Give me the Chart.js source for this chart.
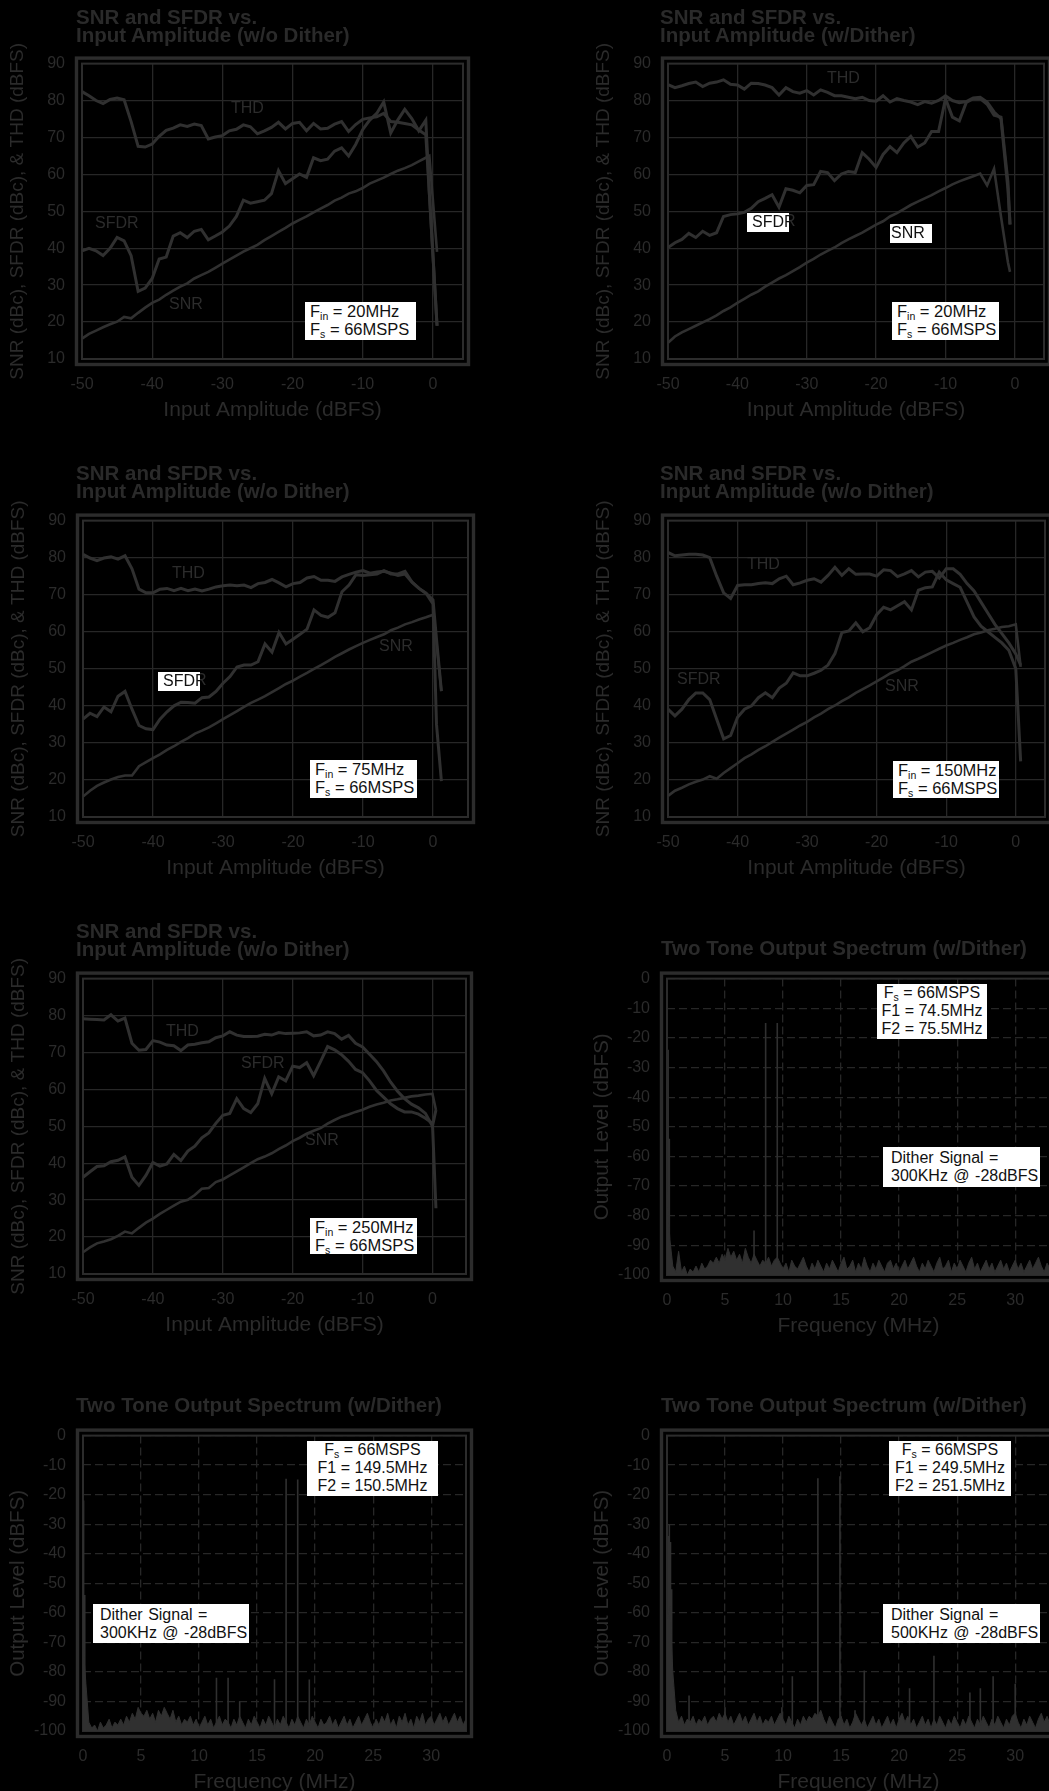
<!DOCTYPE html>
<html lang="en">
<head>
<meta charset="utf-8">
<title>SNR / SFDR and two tone spectrum</title>
<script src="https://cdn.jsdelivr.net/npm/chart.js@4.4.0/dist/chart.umd.min.js"></script>
<style>
html, body { margin: 0; padding: 0; background: #000; overflow: hidden; width: 1049px; height: 1791px; }
body { position: relative; font-family: 'Liberation Sans', Arial, Helvetica, sans-serif; }
canvas { position: absolute; z-index: 0; }
.ttl { position: absolute; z-index: 2; color: #2a2a2a; font-weight: bold; font-size: 20.5px; line-height: 18px; white-space: nowrap; }
.lbl { position: absolute; z-index: 2; color: #2c2c2c; font-size: 16px; line-height: 18px; white-space: nowrap; }
.box { position: absolute; z-index: 3; background: #fff; color: #111; font-size: 16.5px; line-height: 18px; white-space: nowrap; overflow: hidden; box-sizing: border-box; }
.box2 { position: absolute; z-index: 3; background: #fff; color: #111; font-size: 16px; line-height: 17.8px; white-space: nowrap; overflow: hidden; box-sizing: border-box; }
.mini { position: absolute; z-index: 3; background: #fff; color: #111; font-size: 16px; line-height: 17px; white-space: nowrap; overflow: hidden; box-sizing: border-box; height: 19px; width: 42px; }
.sb { font-size: 10.5px; position: relative; top: 3px; line-height: 0; }
</style>
</head>
<body>

<!-- titulos -->
<div class="ttl" style="left:76px;top:8px">SNR and SFDR vs.<br>Input Amplitude (w/o Dither)</div>
<div class="ttl" style="left:660px;top:8px">SNR and SFDR vs.<br>Input Amplitude (w/Dither)</div>
<div class="ttl" style="left:76px;top:464px">SNR and SFDR vs.<br>Input Amplitude (w/o Dither)</div>
<div class="ttl" style="left:660px;top:464px">SNR and SFDR vs.<br>Input Amplitude (w/o Dither)</div>
<div class="ttl" style="left:76px;top:922px">SNR and SFDR vs.<br>Input Amplitude (w/o Dither)</div>
<div class="ttl" style="left:661px;top:939px">Two Tone Output Spectrum (w/Dither)</div>
<div class="ttl" style="left:76px;top:1396px">Two Tone Output Spectrum (w/Dither)</div>
<div class="ttl" style="left:661px;top:1396px">Two Tone Output Spectrum (w/Dither)</div>

<!-- etiquetas de curvas -->
<div class="lbl" style="left:231px;top:99px">THD</div>
<div class="lbl" style="left:95px;top:214px">SFDR</div>
<div class="lbl" style="left:169px;top:295px">SNR</div>
<div class="lbl" style="left:827px;top:69px">THD</div>
<div class="lbl" style="left:752px;top:212px">SFDR</div>
<div class="mini" style="left:747px;top:213px;padding-left:5px">SFDR</div>
<div class="mini" style="left:890px;top:224px;padding-left:1px">SNR</div>
<div class="lbl" style="left:172px;top:564px">THD</div>
<div class="lbl" style="left:379px;top:637px">SNR</div>
<div class="lbl" style="left:163px;top:671px">SFDR</div>
<div class="mini" style="left:158px;top:672px;padding-left:5px">SFDR</div>
<div class="lbl" style="left:747px;top:555px">THD</div>
<div class="lbl" style="left:677px;top:670px">SFDR</div>
<div class="lbl" style="left:885px;top:677px">SNR</div>
<div class="lbl" style="left:166px;top:1022px">THD</div>
<div class="lbl" style="left:241px;top:1054px">SFDR</div>
<div class="lbl" style="left:305px;top:1131px">SNR</div>

<!-- cajas de condiciones -->
<div class="box" style="left:305px;top:302px;width:111px;height:38px;padding-left:5px">F<span class="sb">in</span> = 20MHz<br>F<span class="sb">s</span> = 66MSPS</div>
<div class="box" style="left:892px;top:302px;width:107px;height:38px;padding-left:5px">F<span class="sb">in</span> = 20MHz<br>F<span class="sb">s</span> = 66MSPS</div>
<div class="box" style="left:310px;top:760px;width:107px;height:38px;padding-left:5px">F<span class="sb">in</span> = 75MHz<br>F<span class="sb">s</span> = 66MSPS</div>
<div class="box" style="left:893px;top:761px;width:106px;height:37px;padding-left:5px">F<span class="sb">in</span> = 150MHz<br>F<span class="sb">s</span> = 66MSPS</div>
<div class="box" style="left:310px;top:1218px;width:107px;height:36px;padding-left:5px">F<span class="sb">in</span> = 250MHz<br>F<span class="sb">s</span> = 66MSPS</div>

<div class="box2" style="left:877px;top:984px;width:110px;height:55px;text-align:center">F<span class="sb">s</span> = 66MSPS<br>F1 = 74.5MHz<br>F2 = 75.5MHz</div>
<div class="box2" style="left:883px;top:1147px;width:157px;height:40px;padding-left:8px;padding-top:2px;word-spacing:1px">Dither Signal =<br>300KHz @ -28dBFS</div>
<div class="box2" style="left:307px;top:1441px;width:131px;height:55px;text-align:center">F<span class="sb">s</span> = 66MSPS<br>F1 = 149.5MHz<br>F2 = 150.5MHz</div>
<div class="box2" style="left:93px;top:1604px;width:156px;height:39px;padding-left:7px;padding-top:2px;word-spacing:1px">Dither Signal =<br>300KHz @ -28dBFS</div>
<div class="box2" style="left:889px;top:1441px;width:122px;height:55px;text-align:center">F<span class="sb">s</span> = 66MSPS<br>F1 = 249.5MHz<br>F2 = 251.5MHz</div>
<div class="box2" style="left:883px;top:1604px;width:157px;height:39px;padding-left:8px;padding-top:2px;word-spacing:1px">Dither Signal =<br>500KHz @ -28dBFS</div>

<script>
// colores del original (todo gris oscuro sobre negro)
const TXT = '#2b2b2b';
const GRID = '#272727';
const FRAME = '#2c2c2c';
const LINE = '#303030';
const FONT = "'Liberation Sans', Arial, Helvetica, sans-serif";

// ---------- ejes ----------
const ampTicks = [-50, -40, -30, -20, -10, 0];
const dbTicks = [10, 20, 30, 40, 50, 60, 70, 80, 90];
const freqTicks = [0, 5, 10, 15, 20, 25, 30];
const levelTicks = [-100, -90, -80, -70, -60, -50, -40, -30, -20, -10, 0];

// amplitud de entrada (dBFS), pasos de 1 dB
const levelsDb = [-50, -49, -48, -47, -46, -45, -44, -43, -42, -41,
  -40, -39, -38, -37, -36, -35, -34, -33, -32, -31,
  -30, -29, -28, -27, -26, -25, -24, -23, -22, -21,
  -20, -19, -18, -17, -16, -15, -14, -13, -12, -11,
  -10, -9, -8, -7, -6, -5, -4, -3, -2, -1];

// ---------- Fin = 20MHz, sin dither ----------
const amp1 = levelsDb.concat([-0.5, 0.6]);
const thd1 = [82.4, 81.3, 80, 79.2, 80.3, 80.7, 80.2, 74.3, 67.6, 67.4,
  68.2, 70.3, 71.9, 72.5, 73.4, 73, 73.6, 73.2, 69.6, 70.1,
  70.5, 71.8, 72.2, 73.4, 72.9, 71, 71.8, 72.7, 74.1, 72.3,
  73.8, 74.1, 71.8, 73.8, 72.3, 72.5, 73.6, 74.3, 71.6, 73.5,
  74.9, 75.3, 75.6, 76.5, 74.3, 74.1, 73.8, 73.4, 72, 70.7,
  55, 19];
const sfdr1 = [39.3, 40, 39.3, 38, 40, 42.9, 42, 38, 28.3, 29.2,
  31.8, 37.1, 37.6, 43.3, 44.2, 42.9, 44.6, 45.1, 42.3, 43.3,
  44.4, 46, 48.6, 53, 52.2, 52.6, 53, 54.8, 61, 57.5,
  58.8, 60.1, 59.2, 64.5, 63.7, 64.1, 66.3, 67.2, 65, 68.1,
  72.1, 74.7, 76.5, 79.6, 71.2, 74.7, 77.6, 75.1, 71.8, 74.7,
  55, 19];
const snr1 = [15.5, 16.8, 17.7, 18.6, 19.4, 20.1, 21.4, 21, 22.5, 23.9,
  25.2, 26.1, 27.4, 28.5, 29.6, 30.5, 31.8, 32.7, 33.6, 34.7,
  35.8, 36.9, 38, 39.1, 40, 40.9, 42.2, 43.3, 44.4, 45.5,
  46.7, 47.7, 48.6, 49.7, 50.7, 51.7, 52.9, 53.7, 54.8, 55.4,
  56.3, 57.5, 58.3, 59.1, 60.1, 61, 61.7, 62.5, 63.5, 64.5,
  65, 39];

// ---------- Fin = 20MHz, con dither ----------
const amp2 = levelsDb.concat([-0.7]);
const thd2 = [84.3, 83.5, 84, 84.6, 85, 83.8, 84.7, 85, 85.6, 84.4,
  84.2, 83.1, 84.7, 84.6, 84.2, 83.5, 81.5, 83.5, 82.4, 82,
  82.7, 81.5, 82.9, 82.2, 81.3, 81.3, 80.9, 80.5, 80.9, 80,
  79.8, 81.3, 79.6, 80.5, 80, 79.6, 78.9, 79.7, 79.3, 80,
  81.3, 80, 79.4, 79.7, 80.7, 80.9, 79.6, 76.9, 75.1, 56,
  46.4];
const sfdr2 = [40.2, 41.5, 42.4, 44, 42.9, 44.6, 43.5, 44.2, 48.6, 49.1,
  49.3, 49.7, 50.8, 52.6, 53.5, 54.5, 51.1, 56.1, 55.7, 55,
  57, 57.2, 60.8, 60.5, 58.3, 60.1, 60.8, 60.5, 65.9, 64.1,
  61.9, 65.4, 67.5, 65.9, 68.5, 70.3, 67.4, 68.5, 71.6, 71.6,
  80.5, 75.5, 74.5, 79.5, 80.5, 80.5, 79, 76, 75.5, 58,
  46.5];
const snr2 = [14.4, 16.1, 17.2, 18.1, 19, 19.9, 20.8, 21.8, 23, 24,
  25.2, 26.3, 27.4, 28.3, 29.6, 30.7, 31.8, 32.7, 33.8, 34.9,
  36.1, 37.1, 38.3, 39.3, 40.2, 41.4, 42.4, 43.3, 44.2, 45.3,
  46.4, 47.3, 48.6, 49.5, 50.6, 51.7, 52.6, 53.5, 54.4, 55.4,
  56.3, 57.3, 58.1, 58.8, 59.5, 60.2, 57, 61.5, 48.6, 36.2,
  33.6];

// ---------- Fin = 75MHz ----------
const amp3 = levelsDb.concat([0, 0.5, 1.2]);
const thd3 = [80.9, 79.9, 79.2, 79.9, 80.2, 79.6, 80.5, 77, 71.5, 70.5,
  70.5, 71.5, 71.7, 71.1, 71.7, 71.1, 71.5, 71, 71.5, 72.1,
  72.4, 72.6, 72.4, 72.6, 71.9, 73, 73.3, 74.1, 73.2, 72.1,
  73, 73.3, 74.5, 74.9, 73.9, 73.9, 73.6, 74.8, 75.5, 76.1,
  76.5, 75.8, 76.1, 76.3, 75.8, 75.2, 75.6, 73.4, 71.7, 70.4,
  68.6, 58, 44];
const sfdr3 = [36.4, 38, 37.1, 39.7, 38.4, 42.6, 43.9, 39.1, 34.7, 33.8,
  33.6, 36.4, 38.4, 40, 41, 40.9, 40.7, 42.2, 42.4, 43.9,
  46.1, 47.9, 50.5, 51, 51, 51.9, 56.7, 54.5, 59.8, 56.7,
  58, 59.3, 60.7, 65.9, 64.4, 63.9, 65.1, 70.8, 72.6, 75.4,
  75.2, 75.4, 75.6, 76.5, 75.6, 75.6, 76.3, 73.4, 71.7, 70.4,
  67.5, 35, 19.7];
const snr3 = [15.5, 17.1, 18.4, 19.3, 20.1, 20.8, 21.2, 21.2, 23.7, 24.8,
  25.9, 26.9, 28.1, 29.1, 30.3, 31.3, 32.5, 33.3, 34.2, 35.3,
  36.4, 37.5, 38.6, 39.7, 40.8, 41.7, 42.6, 43.7, 44.8, 45.9,
  46.8, 47.9, 48.9, 50, 51, 52.1, 53.2, 54.2, 55.2, 56.1,
  57, 57.8, 58.6, 59.3, 60.4, 61.1, 62, 62.6, 63.3, 63.9,
  64.6, 57, 44];

// ---------- Fin = 150MHz ----------
const amp4 = levelsDb.concat([0, 0.7]);
const thd4 = [81.4, 80.5, 80.7, 80.9, 80.9, 80.7, 80, 75, 70.5, 69,
  72.5, 72.7, 72.7, 73, 73.2, 73, 74.3, 75, 72.7, 73.2,
  73.9, 74.3, 73.4, 75.2, 77.4, 75.2, 77, 75.5, 75.6, 75.6,
  75, 76.7, 76.5, 74.9, 75.6, 76.5, 74.8, 76.1, 76.3, 74.5,
  77, 77, 75.5, 73, 71, 68, 65, 62, 59.5, 57,
  54, 51];
const sfdr4 = [39.1, 37.3, 39.1, 41.7, 43.5, 43.5, 41.7, 36.4, 31.1, 32,
  36.9, 39.1, 40, 42.2, 43.5, 42.2, 44.8, 46.1, 48.9, 48.1,
  48.1, 48.8, 49.6, 51, 54.1, 59.8, 60.2, 62.4, 60, 61.1,
  64.6, 66.6, 65.9, 67, 68.1, 65.9, 71.2, 71.9, 72.1, 76.1,
  74, 73, 72, 68, 64, 61.5, 60, 58.5, 57, 55,
  50, 25];
const snr4 = [15.7, 17.1, 17.9, 18.8, 19.5, 20.1, 21, 20.3, 21.9, 23.2,
  24.5, 25.9, 26.9, 28.1, 29.1, 30.3, 31.4, 32.5, 33.6, 34.7,
  35.7, 36.9, 37.9, 39.1, 40.1, 41.3, 42.3, 43.5, 44.5, 45.5,
  46.6, 47.7, 48.8, 49.6, 50.7, 51.9, 52.7, 53.6, 54.5, 55.4,
  56.3, 57, 57.8, 58.5, 59.3, 59.8, 60.4, 60.8, 61.3, 61.5,
  62, 50.5];

// ---------- Fin = 250MHz ----------
const amp5 = levelsDb.concat([0, 0.5]);
const thd5 = [79.1, 79, 78.9, 78.8, 80.2, 78.5, 79.3, 72.5, 70.6, 70.8,
  73.2, 72.8, 72, 71.8, 70.5, 72, 72.2, 72.6, 72.9, 74,
  74.5, 75.6, 74.7, 74.3, 74.3, 74.4, 74.9, 74.7, 75.4, 75.1,
  75.2, 75.3, 75.6, 74.5, 74.7, 75.6, 75.1, 73.6, 74.6, 72.5,
  71.5, 69.5, 67.5, 65, 62, 59.5, 57.5, 56, 55, 53.5,
  50, 54.4];
const sfdr5 = [36.2, 37.7, 39.1, 39.3, 40.4, 40.8, 41.7, 36.2, 34, 36.7,
  40.2, 39.2, 39.8, 42.4, 40.7, 43.3, 44.6, 46.9, 48.2, 50.8,
  53, 53.5, 57.5, 54.8, 53.7, 56.1, 63, 58.8, 63.4, 62.3,
  66.3, 65.9, 67.2, 63.7, 67.6, 71.6, 70.7, 69.4, 67.6, 65.4,
  64.5, 62.3, 59.7, 57.9, 56.1, 54.8, 53.9, 53.9, 53.3, 52.2,
  50.8, 27.8];
const snr5 = [15.9, 17.2, 18.3, 18.8, 19.4, 20.3, 21.5, 21, 22.5, 23.9,
  25, 26.3, 27.4, 28.5, 29.6, 30.1, 31.4, 33.1, 33.3, 34.9,
  35.6, 36.7, 37.8, 38.9, 40, 41.1, 41.8, 42.7, 43.8, 44.8,
  46, 46.9, 48, 48.8, 49.5, 50.7, 51.7, 52.6, 53.2, 53.9,
  54.5, 55.3, 55.9, 56.4, 57, 57.3, 57.7, 58.1, 58.3, 58.6,
  58.8, 54.4];

// ---------- espectros: piso de ruido cada 0.25 MHz (0..33) ----------
const binStep = 0.25;
const noise6 = [
  -72, -88, -97, -99, -92, -99, -97, -100, -98, -99, -97, -99,
  -96, -98, -97, -95, -96, -94, -96, -93, -95, -91, -94, -92,
  -95, -93, -96, -91, -94, -96, -93, -95, -97, -95, -96, -94,
  -97, -95, -94, -96, -98, -96, -99, -95, -97, -98, -96, -94,
  -97, -99, -96, -98, -95, -97, -99, -96, -98, -95, -97, -99,
  -96, -94, -98, -97, -95, -99, -96, -98, -94, -97, -99, -96,
  -98, -95, -97, -99, -96, -95, -98, -96, -99, -97, -95, -98,
  -96, -94, -97, -99, -96, -98, -95, -97, -99, -96, -94, -98,
  -97, -95, -99, -96, -98, -95, -97, -99, -96, -94, -98, -96,
  -99, -97, -95, -98, -96, -99, -97, -95, -98, -96, -99, -97,
  -95, -98, -96, -99, -97, -95, -98, -96, -94, -97, -99, -96,
  -98];
const spikeF6 = [0.1, 0.2, 7.5, 8.5, 9.5];
const spikeL6 = [-24, -54, -85, -15, -15];

const noise7 = [
  -70, -84, -97, -99, -98, -100, -97, -99, -98, -96, -99, -97,
  -98, -96, -98, -95, -97, -94, -96, -92, -94, -95, -93, -96,
  -94, -97, -93, -95, -92, -94, -96, -93, -97, -95, -98, -96,
  -97, -95, -98, -96, -99, -97, -95, -98, -96, -99, -97, -95,
  -98, -96, -97, -99, -96, -98, -95, -97, -99, -96, -98, -95,
  -97, -99, -96, -98, -95, -97, -99, -96, -98, -95, -97, -99,
  -96, -98, -95, -97, -99, -96, -98, -95, -97, -99, -96, -98,
  -97, -95, -98, -96, -99, -97, -95, -98, -96, -99, -97, -95,
  -98, -96, -94, -97, -99, -96, -98, -95, -97, -94, -98, -96,
  -99, -95, -97, -94, -98, -96, -99, -95, -97, -94, -98, -96,
  -95, -98, -96, -94, -97, -95, -98, -96, -94, -97, -95, -98,
  -96];
const spikeF7 = [0.05, 0.15, 11.5, 12.5, 13.5, 16.5, 17.5, 18.5, 19.5];
const spikeL7 = [-22, -54, -82, -82, -90, -82.5, -14.6, -14.9, -82.6];

const noise8 = [
  -62, -58, -80, -93, -97, -95, -98, -96, -97, -95, -98, -96,
  -97, -95, -98, -96, -95, -97, -94, -96, -94, -97, -95, -98,
  -96, -94, -97, -95, -98, -96, -94, -97, -95, -98, -96, -97,
  -95, -98, -96, -94, -96, -98, -95, -97, -99, -96, -98, -95,
  -97, -95, -96, -94, -95, -93, -96, -98, -95, -97, -99, -96,
  -95, -98, -96, -99, -97, -94, -96, -98, -96, -99, -97, -95,
  -98, -96, -99, -97, -95, -98, -96, -99, -96, -94, -97, -95,
  -98, -96, -99, -97, -95, -98, -96, -99, -96, -98, -95, -97,
  -99, -96, -98, -95, -97, -99, -96, -98, -95, -97, -99, -96,
  -98, -95, -97, -99, -96, -98, -95, -97, -99, -96, -98, -95,
  -94, -97, -99, -96, -98, -95, -97, -99, -96, -94, -97, -95,
  -98];
const spikeF8 = [0.1, 0.2, 0.3, 0.4, 1.9, 5.0, 9.9, 10.8, 13.0, 14.9, 16.2, 17.0, 20.9, 23.0, 26.1, 27.0, 28.1, 30.0];
const spikeL8 = [-34, -30, -36, -52, -88, -92, -92, -81.5, -14.4, -13.8, -93, -79.5, -85.5, -74.5, -87, -85.5, -81.5, -84];

// ---------- helpers ----------
function serie(xs, ys) {
  return xs.map((x, i) => ({ x: x, y: ys[i] }));
}
function piso(vals) {
  return vals.map((v, i) => ({ x: i * binStep, y: v }));
}
function espigas(fs, ls) {
  const out = [];
  fs.forEach((f, i) => {
    out.push({ x: f, y: -100 }, { x: f, y: ls[i] }, { x: f, y: null });
  });
  return out;
}
function curva(data, w) {
  return { data: data, borderColor: LINE, borderWidth: w, pointRadius: 0, tension: 0, fill: false };
}

// marco doble: borde fino del area + borde grueso exterior
const marcoPlugin = {
  id: 'marco',
  beforeDatasetsDraw(chart) {
    const { ctx, chartArea: a } = chart;
    ctx.save();
    ctx.strokeStyle = FRAME;
    ctx.lineWidth = 2;
    ctx.strokeRect(a.left, a.top, a.right - a.left, a.bottom - a.top);
    ctx.lineWidth = 3.4;
    ctx.strokeRect(a.left - 5.5, a.top - 5.5, a.right - a.left + 11, a.bottom - a.top + 11);
    ctx.restore();
  }
};

function crearPanel(p) {
  const [L, T, R, B] = p.area;
  const c = document.createElement('canvas');
  const left = L - 82, top = T - 20;
  c.width = R - left + 12;
  c.height = (B - T) + 20 + 64;
  c.style.left = left + 'px';
  c.style.top = top + 'px';
  document.body.appendChild(c);

  new Chart(c, {
    type: 'line',
    data: { datasets: p.datasets },
    options: {
      responsive: false,
      animation: false,
      devicePixelRatio: 1,
      layout: { padding: { left: 0, top: 20, right: 12, bottom: 0 } },
      plugins: { legend: { display: false }, tooltip: { enabled: false } },
      scales: {
        x: {
          type: 'linear', min: p.xMin, max: p.xMax,
          afterFit: s => { s.height = 64; },
          afterBuildTicks: s => { s.ticks = p.xTicks.map(v => ({ value: v })); },
          grid: { color: GRID, lineWidth: 1.3, drawTicks: false },
          border: { display: false, dash: p.dashed ? [8, 4] : [] },
          ticks: { color: TXT, font: { family: FONT, size: 16 }, padding: 16, maxRotation: 0, autoSkip: false, callback: v => String(v) },
          title: { display: true, text: p.xTitle, color: TXT, font: { family: FONT, size: 21 }, padding: { top: 0, bottom: 0 } }
        },
        y: {
          type: 'linear', min: p.yMin, max: p.yMax,
          afterFit: s => { s.width = 82; },
          afterBuildTicks: s => { s.ticks = p.yTicks.map(v => ({ value: v })); },
          grid: { color: GRID, lineWidth: 1.3, drawTicks: false },
          border: { display: false, dash: p.dashed ? [8, 4] : [] },
          ticks: { color: TXT, font: { family: FONT, size: 16 }, padding: 17, autoSkip: false, callback: v => String(v) },
          title: { display: true, text: p.yTitle, color: TXT, font: { family: FONT, size: p.yTitleSize }, padding: { top: p.yTitlePad, bottom: 0 } }
        }
      }
    },
    plugins: [marcoPlugin]
  });
}

const yAmpTitle = 'SNR (dBc), SFDR (dBc), & THD (dBFS)';

function panelAmp(area, xMax, xs, thd, sfdr, snr) {
  crearPanel({
    area: area, xMin: -50, xMax: xMax, xTicks: ampTicks,
    yMin: 10, yMax: 90, yTicks: dbTicks,
    xTitle: 'Input Amplitude (dBFS)', yTitle: yAmpTitle, yTitleSize: 19, yTitlePad: 6.6,
    dashed: false,
    datasets: [curva(serie(xs, thd), 3), curva(serie(xs, sfdr), 3), curva(serie(xs, snr), 2.6)]
  });
}

function panelFft(area, noise, sf, sl) {
  crearPanel({
    area: area, xMin: 0, xMax: 33, xTicks: freqTicks,
    yMin: -100, yMax: 0, yTicks: levelTicks,
    xTitle: 'Frequency (MHz)', yTitle: 'Output Level (dBFS)', yTitleSize: 20.5, yTitlePad: 4.7,
    dashed: true,
    datasets: [
      { data: piso(noise), borderColor: LINE, backgroundColor: LINE, borderWidth: 1, pointRadius: 0, tension: 0, fill: 'start' },
      { data: espigas(sf, sl), borderColor: LINE, borderWidth: 1.6, pointRadius: 0, tension: 0, spanGaps: false, fill: false }
    ]
  });
}

panelAmp([82, 57, 463, 359], 4.3, amp1, thd1, sfdr1, snr1);
panelAmp([668, 57, 1044, 359], 4.2, amp2, thd2, sfdr2, snr2);
panelAmp([83, 514, 468, 817], 5.0, amp3, thd3, sfdr3, snr3);
panelAmp([668, 514, 1045, 817], 4.2, amp4, thd4, sfdr4, snr4);
panelAmp([83, 972, 466, 1274], 4.8, amp5, thd5, sfdr5, snr5);
panelFft([667, 972, 1050, 1275], noise6, spikeF6, spikeL6);
panelFft([83, 1429, 466, 1731], noise7, spikeF7, spikeL7);
panelFft([667, 1429, 1050, 1731], noise8, spikeF8, spikeL8);
</script>
</body>
</html>
